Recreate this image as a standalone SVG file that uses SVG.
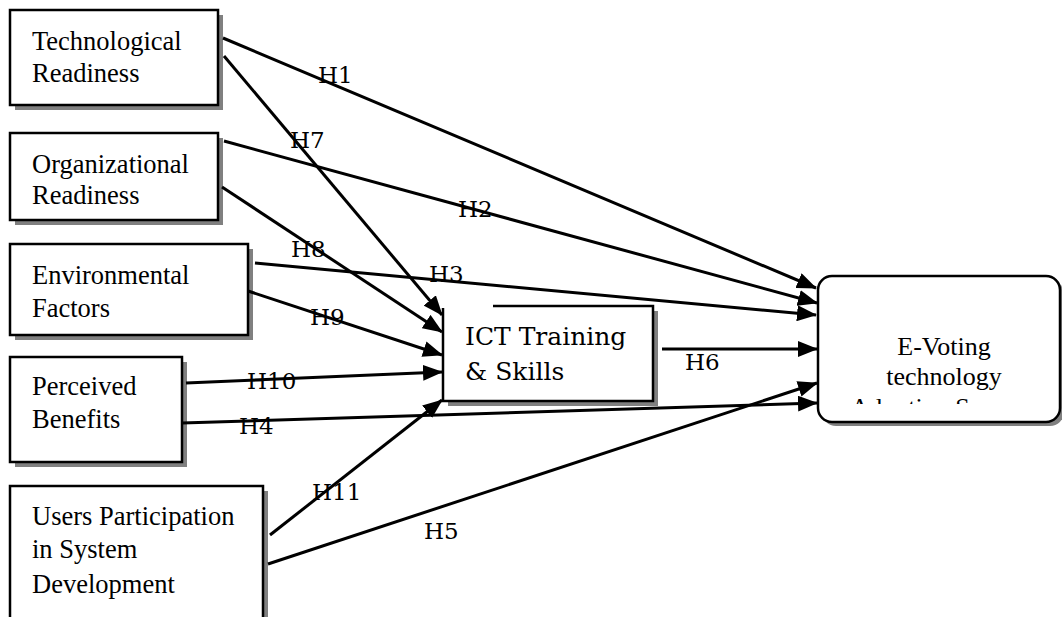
<svg xmlns="http://www.w3.org/2000/svg" width="1062" height="617" viewBox="0 0 1062 617">
  <style>
    .box { fill: #ffffff; stroke: #000000; stroke-width: 2.5; }
    .shadow { fill: #808080; stroke: none; }
    .lbl { font-family: "Liberation Serif", "Times New Roman", serif; font-size: 26.5px; fill: #000000; }
    .ev { font-family: "Liberation Serif", "Times New Roman", serif; font-size: 26px; fill: #000000; text-anchor: middle; }
    .ict { font-family: "DejaVu Serif", "Liberation Serif", serif; font-size: 25px; fill: #000000; }
    .h { font-family: "DejaVu Serif", "Liberation Serif", serif; font-size: 23px; fill: #000000; }
    .conn { stroke: #000000; stroke-width: 3; fill: none; marker-end: url(#arr); }
  </style>
  <defs>
    <marker id="arr" markerUnits="userSpaceOnUse" markerWidth="20" markerHeight="16" refX="19" refY="8" orient="auto">
      <path d="M0,0 L20,8 L0,16 z" fill="#000000"/>
    </marker>
    <clipPath id="evclip">
      <rect x="818" y="276" width="244" height="128"/>
    </clipPath>
  </defs>
  <rect width="1062" height="617" fill="#ffffff"/>

  <g id="tech">
    <rect class="shadow" x="15" y="15" width="208" height="95"/>
    <rect class="box" x="10" y="10" width="208" height="95"/>
    <text class="lbl" x="32" y="50">Technological</text>
    <text class="lbl" x="32" y="82">Readiness</text>
  </g>

  <g id="org">
    <rect class="shadow" x="15" y="138" width="208" height="87"/>
    <rect class="box" x="10" y="133" width="208" height="87"/>
    <text class="lbl" x="32" y="173">Organizational</text>
    <text class="lbl" x="32" y="204">Readiness</text>
  </g>

  <g id="env">
    <rect class="shadow" x="15" y="249" width="238" height="91"/>
    <rect class="box" x="10" y="244" width="238" height="91"/>
    <text class="lbl" x="32" y="284">Environmental</text>
    <text class="lbl" x="32" y="317">Factors</text>
  </g>

  <g id="ben">
    <rect class="shadow" x="15" y="362" width="172" height="105"/>
    <rect class="box" x="10" y="357" width="172" height="105"/>
    <text class="lbl" x="32" y="395">Perceived</text>
    <text class="lbl" x="32" y="428">Benefits</text>
  </g>

  <g id="users">
    <rect class="shadow" x="15" y="491" width="253" height="140"/>
    <rect class="box" x="10" y="486" width="253" height="140"/>
    <text class="lbl" x="32" y="525">Users Participation</text>
    <text class="lbl" x="32" y="558">in System</text>
    <text class="lbl" x="32" y="593">Development</text>
  </g>

  <g id="ict">
    <rect class="shadow" x="448" y="311" width="210" height="95"/>
    <rect x="443" y="306" width="210" height="95" fill="#ffffff"/>
    <path d="M493,306 L653,306 L653,401 L443,401 L443,308" fill="none" stroke="#000000" stroke-width="2.5"/>
    <text class="ict" x="465" y="345">ICT Training</text>
    <text class="ict" x="465" y="380">&amp; Skills</text>
  </g>

  <g id="evoting">
    <rect class="shadow" x="822" y="280" width="242" height="146" rx="14" ry="14"/>
    <rect class="box" x="818" y="276" width="242" height="146" rx="14" ry="14"/>
    <g clip-path="url(#evclip)">
      <text class="ev" x="944" y="355">E-Voting</text>
      <text class="ev" x="944" y="385">technology</text>
      <text class="ev" x="944" y="416">Adoption Success</text>
    </g>
  </g>

  <g id="connectors">
    <line class="conn" x1="223" y1="38" x2="816" y2="288"/>
    <line class="conn" x1="224" y1="56" x2="442" y2="315"/>
    <line class="conn" x1="224" y1="141" x2="817" y2="303"/>
    <line class="conn" x1="222" y1="187" x2="442" y2="332"/>
    <line class="conn" x1="255" y1="263" x2="816" y2="315"/>
    <line class="conn" x1="248" y1="291" x2="442" y2="355"/>
    <line class="conn" x1="186" y1="383" x2="442" y2="372"/>
    <line class="conn" x1="182" y1="423" x2="817" y2="403"/>
    <line class="conn" x1="270" y1="535" x2="442" y2="400"/>
    <line class="conn" x1="268" y1="564" x2="817" y2="383"/>
    <line class="conn" x1="662" y1="349" x2="817" y2="349"/>
  </g>

  <g id="labels">
    <text class="h" x="318" y="83">H1</text>
    <text class="h" x="290" y="148">H7</text>
    <text class="h" x="458" y="217">H2</text>
    <text class="h" x="291" y="257">H8</text>
    <text class="h" x="429" y="282">H3</text>
    <text class="h" x="310" y="325">H9</text>
    <text class="h" x="247" y="389">H10</text>
    <text class="h" x="239" y="434">H4</text>
    <text class="h" x="685" y="370">H6</text>
    <text class="h" x="312" y="500">H11</text>
    <text class="h" x="424" y="539">H5</text>
  </g>
</svg>
